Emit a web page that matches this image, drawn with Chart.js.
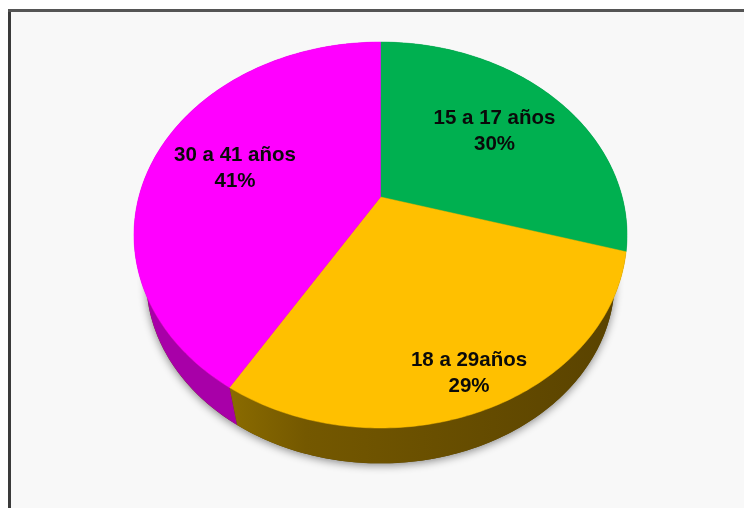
<!DOCTYPE html>
<html>
<head>
<meta charset="utf-8">
<style>
    html, body { margin: 0; padding: 0; background: #fff; }
    canvas { display: block; filter: blur(0.6px); }
</style>
</head>
<body>
<canvas id="pieChart" width="744" height="508"></canvas>
<script src="https://cdn.jsdelivr.net/npm/chart.js@4/dist/chart.umd.min.js"></script>
<script>
// Chart data
const categories = ["15 a 17 años", "18 a 29años", "30 a 41 años"];
const shares = [29.5, 29.2, 41.3];
const sliceColors = ["#00B050", "#FFC000", "#FF00FF"];

// The original is a tilted 3D pie, so the library's arc angles go through a perspective projection
const view = { apexX: 380.5, apexY: 197, spreadX: 241.7, spreadY: 146.7, tilt: -0.197 };
const rimCenter = { x: 380.5, y: 235 };
const wallScale = 0.95;
const wallDrop = 45;
const labelSpots = [[494.5, 131], [469, 373], [235, 168]];

function rimPoint(angle) {
    const u = Math.cos(angle);
    const v = Math.sin(angle);
    const w = 1 + view.tilt * v;
    return { x: view.apexX + view.spreadX * u / w, y: (view.apexY + view.spreadY * v) / w };
}

function floorPoint(angle) {
    const p = rimPoint(angle);
    return {
        x: rimCenter.x + (p.x - rimCenter.x) * wallScale,
        y: rimCenter.y + (p.y - rimCenter.y) * wallScale + wallDrop,
    };
}

function sampleAngles(start, end) {
    const steps = Math.max(2, Math.ceil((end - start) * 60));
    return Array.from({ length: steps + 1 }, (_, i) => start + (end - start) * i / steps);
}

function wallFill(ctx, index) {
    if (index === 0) return "#00753A";
    if (index === 2) return "#A800A8";
    const grad = ctx.createLinearGradient(230, 0, 610, 0);
    grad.addColorStop(0, "#8A6B00");
    grad.addColorStop(0.2, "#745800");
    grad.addColorStop(1, "#5A4300");
    return grad;
}

const pie3dPlugin = {
    id: "pie3d",
    beforeDraw(chart) {
        const ctx = chart.ctx;
        ctx.save();
        ctx.fillStyle = "#F8F8F8";
        ctx.fillRect(9, 11, 735, 497);
        ctx.fillStyle = "#3A3A3A";
        ctx.fillRect(8, 10, 3, 498);
        ctx.fillStyle = "#555555";
        ctx.fillRect(8, 9, 736, 3);
        ctx.restore();
    },
    beforeDatasetsDraw(chart) {
        const ctx = chart.ctx;
        const arcs = chart.getDatasetMeta(0).data;

        // soft shadow under the pie
        ctx.save();
        ctx.shadowColor = "rgba(0,0,0,0.45)";
        ctx.shadowBlur = 9;
        ctx.shadowOffsetY = 2;
        ctx.fillStyle = "#5A4300";
        ctx.beginPath();
        sampleAngles(-Math.PI / 2, Math.PI * 1.5).forEach((a) => {
            const p = floorPoint(a);
            ctx.lineTo(p.x, p.y);
        });
        ctx.closePath();
        ctx.fill();
        ctx.restore();

        // side wall
        arcs.forEach((arc, i) => {
            const angles = sampleAngles(arc.startAngle, arc.endAngle);
            ctx.beginPath();
            angles.forEach((a) => {
                const p = rimPoint(a);
                ctx.lineTo(p.x, p.y);
            });
            angles.slice().reverse().forEach((a) => {
                const p = floorPoint(a);
                ctx.lineTo(p.x, p.y);
            });
            ctx.closePath();
            ctx.fillStyle = wallFill(ctx, i);
            ctx.fill();
        });

        // top face
        arcs.forEach((arc, i) => {
            ctx.beginPath();
            ctx.moveTo(view.apexX, view.apexY);
            sampleAngles(arc.startAngle, arc.endAngle).forEach((a) => {
                const p = rimPoint(a);
                ctx.lineTo(p.x, p.y);
            });
            ctx.closePath();
            ctx.fillStyle = sliceColors[i];
            ctx.strokeStyle = sliceColors[i];
            ctx.lineWidth = 0.5;
            ctx.fill();
            ctx.stroke();
        });

        // labels
        ctx.save();
        ctx.font = "bold 20.5px 'Liberation Sans', Arial, sans-serif";
        ctx.fillStyle = "#0A0A0A";
        ctx.textAlign = "center";
        ctx.textBaseline = "middle";
        categories.forEach((name, i) => {
            const [x, y] = labelSpots[i];
            ctx.fillText(name, x, y - 13);
            ctx.fillText(`${Math.round(shares[i])}%`, x, y + 13);
        });
        ctx.restore();

        return false; // slices already painted
    },
};

const pieCtx = document.getElementById("pieChart").getContext("2d");
const pieChart = new Chart(pieCtx, {
    type: "pie",
    data: {
        labels: categories,
        datasets: [{ data: shares, backgroundColor: sliceColors, borderWidth: 0 }],
    },
    options: {
        responsive: false,
        animation: false,
        plugins: { legend: { display: false }, tooltip: { enabled: false } },
    },
    plugins: [pie3dPlugin],
});
</script>
</body>
</html>
